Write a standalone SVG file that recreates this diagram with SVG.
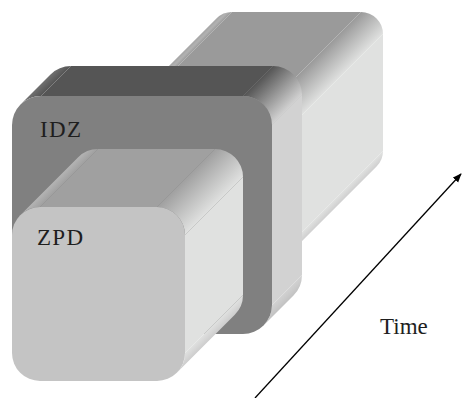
<svg xmlns="http://www.w3.org/2000/svg" width="462" height="398" viewBox="0 0 462 398">
  <defs>
    <style>
      .label { font-family: "Liberation Serif", "DejaVu Serif", serif; font-size: 23px; fill: #1e1e1e; }
      .axis { stroke: #000; stroke-width: 1.3; fill: none; }
    </style>
    <!-- back prism shading -->
    <linearGradient id="bpTL" gradientUnits="userSpaceOnUse" x1="86.44" y1="148.44" x2="91" y2="153">
      <stop offset="0" stop-color="#a4a4a4"/>
      <stop offset="0.5" stop-color="#b2b2b2"/>
      <stop offset="1" stop-color="#9a9a9a"/>
    </linearGradient>
    <linearGradient id="bpTR" gradientUnits="userSpaceOnUse" x1="231" y1="142" x2="253" y2="164">
      <stop offset="0" stop-color="#9a9a9a"/>
      <stop offset="1" stop-color="#e0e1e0"/>
    </linearGradient>
    <linearGradient id="bpBR" gradientUnits="userSpaceOnUse" x1="253" y1="281" x2="257.6" y2="285.6">
      <stop offset="0" stop-color="#e0e1e0"/>
      <stop offset="1" stop-color="#cfcfcf"/>
    </linearGradient>
    <!-- IDZ shading -->
    <linearGradient id="idzTL" gradientUnits="userSpaceOnUse" x1="20.5" y1="104.5" x2="26.5" y2="110.5">
      <stop offset="0" stop-color="#707070"/>
      <stop offset="1" stop-color="#555555"/>
    </linearGradient>
    <linearGradient id="idzTR" gradientUnits="userSpaceOnUse" x1="243" y1="96" x2="272" y2="125">
      <stop offset="0" stop-color="#555555"/>
      <stop offset="1" stop-color="#d2d2d2"/>
    </linearGradient>
    <linearGradient id="idzBR" gradientUnits="userSpaceOnUse" x1="272" y1="305" x2="278" y2="311">
      <stop offset="0" stop-color="#d2d2d2"/>
      <stop offset="1" stop-color="#c2c2c2"/>
    </linearGradient>
    <!-- ZPD shading -->
    <linearGradient id="zpdTL" gradientUnits="userSpaceOnUse" x1="20.2" y1="215.2" x2="26" y2="221">
      <stop offset="0" stop-color="#b4b4b4"/>
      <stop offset="1" stop-color="#a0a0a0"/>
    </linearGradient>
    <linearGradient id="zpdTR" gradientUnits="userSpaceOnUse" x1="157" y1="207" x2="185" y2="235">
      <stop offset="0" stop-color="#a0a0a0"/>
      <stop offset="1" stop-color="#e0e1e0"/>
    </linearGradient>
    <linearGradient id="zpdBR" gradientUnits="userSpaceOnUse" x1="185" y1="353" x2="190.8" y2="358.8">
      <stop offset="0" stop-color="#e0e1e0"/>
      <stop offset="1" stop-color="#cdcdcd"/>
    </linearGradient>
    <marker id="arrow" viewBox="0 0 10 10" refX="9" refY="5" markerWidth="9" markerHeight="9" markerUnits="userSpaceOnUse" orient="auto">
      <path d="M0,1 L10,5 L0,9 Z" fill="#000"/>
    </marker>
  </defs>

  <rect width="462" height="398" fill="#ffffff"/>

  <!-- long prism running back in time -->
  <g id="history">
    <polygon points="102,142 231,142 361,12 232,12" fill="#9a9a9a"/>
    <path d="M86.44,148.44 A22,22 0 0 1 102,142 L232,12 A22,22 0 0 0 216.44,18.44 Z" fill="url(#bpTL)"/>
    <path d="M231,142 A22,22 0 0 1 253,164 L383,34 A22,22 0 0 0 361,12 Z" fill="url(#bpTR)"/>
    <polygon points="253,164 253,281 383,151 383,34" fill="#e0e1e0"/>
    <path d="M253,281 A22,22 0 0 1 246.56,296.56 L376.56,166.56 A22,22 0 0 0 383,151 Z" fill="url(#bpBR)"/>
  </g>

  <!-- IDZ slab -->
  <g id="idz">
    <polygon points="41,96 243,96 273,66 71,66" fill="#555555"/>
    <path d="M20.5,104.5 A29,29 0 0 1 41,96 L71,66 A29,29 0 0 0 50.5,74.5 Z" fill="url(#idzTL)"/>
    <path d="M243,96 A29,29 0 0 1 272,125 L302,95 A29,29 0 0 0 273,66 Z" fill="url(#idzTR)"/>
    <polygon points="272,125 272,305 302,275 302,95" fill="#d2d2d2"/>
    <path d="M272,305 A29,29 0 0 1 263.5,325.5 L293.5,295.5 A29,29 0 0 0 302,275 Z" fill="url(#idzBR)"/>
    <rect x="12" y="96" width="260" height="238" rx="29" ry="29" fill="#808080"/>
    <text class="label" x="40" y="137" textLength="41" lengthAdjust="spacing">IDZ</text>
  </g>

  <!-- ZPD block -->
  <g id="zpd">
    <polygon points="40,207 157,207 215,149 98,149" fill="#a0a0a0"/>
    <path d="M20.2,215.2 A28,28 0 0 1 40,207 L98,149 A28,28 0 0 0 78.2,157.2 Z" fill="url(#zpdTL)"/>
    <path d="M157,207 A28,28 0 0 1 185,235 L243,177 A28,28 0 0 0 215,149 Z" fill="url(#zpdTR)"/>
    <polygon points="185,235 185,353 243,295 243,177" fill="#e0e1e0"/>
    <path d="M185,353 A28,28 0 0 1 176.8,372.8 L234.8,314.8 A28,28 0 0 0 243,295 Z" fill="url(#zpdBR)"/>
    <rect x="12" y="207" width="173" height="174" rx="28" ry="28" fill="#c4c4c4"/>
    <text class="label" x="37" y="245" textLength="46" lengthAdjust="spacing">ZPD</text>
  </g>

  <!-- time axis -->
  <g id="connectors">
    <line class="axis" x1="255" y1="398" x2="461" y2="174" marker-end="url(#arrow)"/>
  </g>
  <text class="label" x="380" y="334">Time</text>
</svg>
